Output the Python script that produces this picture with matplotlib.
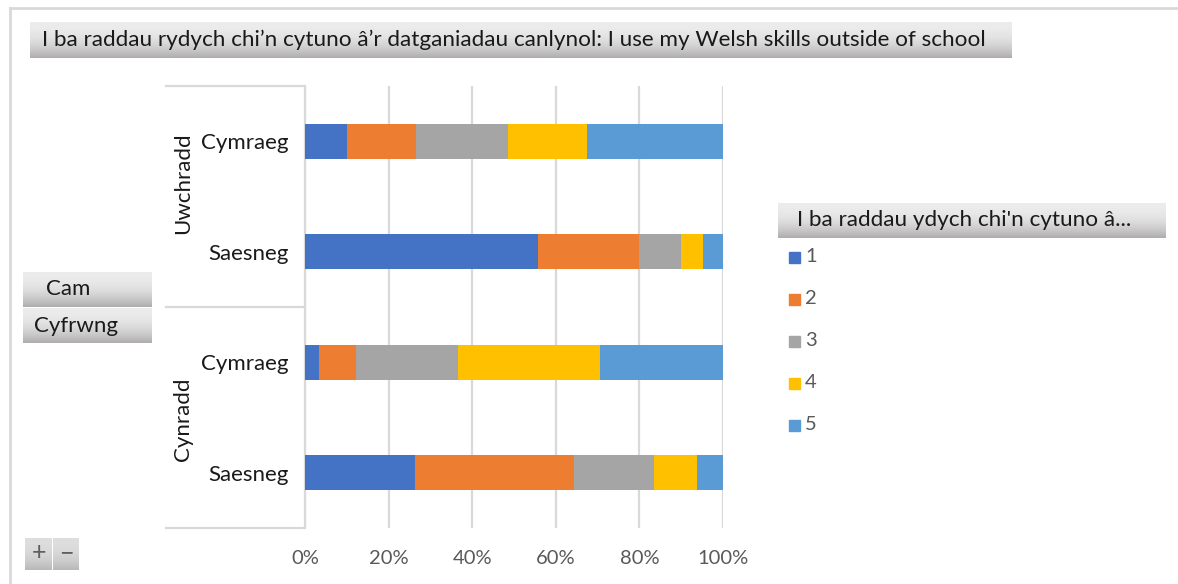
import numpy as np
import matplotlib.pyplot as plt
from matplotlib.patches import Rectangle
from matplotlib.lines import Line2D

# data (percent of respondents per rating)
groups = ['Uwchradd', 'Cynradd']
mediums = ['Cymraeg', 'Saesneg']
series_labels = ['1', '2', '3', '4', '5']
uwchradd_cymraeg = [10.0, 16.6, 21.9, 18.9, 32.6]
uwchradd_saesneg = [55.8, 24.2, 10.0, 5.1, 4.9]
cynradd_cymraeg = [3.4, 8.9, 24.3, 34.0, 29.4]
cynradd_saesneg = [26.3, 38.0, 19.2, 10.3, 6.2]
x_ticks = [0, 20, 40, 60, 80, 100]

title = 'I ba raddau rydych chi\u2019n cytuno \u00e2\u2019r datganiadau canlynol: I use my Welsh skills outside of school'
legend_title = "I ba raddau ydych chi'n cytuno \u00e2..."

colors = ['#4472c4', '#ed7d31', '#a5a5a5', '#ffc000', '#5b9bd5']

W, H = 1178, 584
FONT = ['Lato', 'DejaVu Sans']
plt.rcParams['font.family'] = FONT

fig = plt.figure(figsize=(W / 100, H / 100), dpi=100)


def fx(x):
    return x / W


def fy(y):
    return 1 - y / H


def button(x0, y0, x1, y1, top='#ececec', bottom='#aeacac'):
    # grey gradient box like the pivot chart field buttons
    bax = fig.add_axes([fx(x0), fy(y1), (x1 - x0) / W, (y1 - y0) / H])
    grad = np.linspace(0, 1, 64).reshape(-1, 1)
    c0 = np.array(plt.matplotlib.colors.to_rgb(top))
    c1 = np.array(plt.matplotlib.colors.to_rgb(bottom))
    shade = grad ** 2.2
    img = c0 + (c1 - c0) * shade[..., None]
    bax.imshow(img, aspect='auto', extent=[0, 1, 0, 1], origin='upper')
    bax.set_axis_off()
    return bax


# outer frame
fig.add_artist(Line2D([fx(10), fx(W)], [fy(8), fy(8)], color='#d9d9d9', lw=2))
fig.add_artist(Line2D([fx(10), fx(10)], [fy(8), fy(H)], color='#d9d9d9', lw=2))

# title button
button(30, 22, 1012, 58)
fig.text(fx(42), fy(40), title, fontsize=16.2, color='#1a1a1a', va='center', ha='left')

# main bar axes
ax = fig.add_axes([fx(305), fy(528), (723 - 305) / W, (528 - 86) / H])
rows = [uwchradd_cymraeg, uwchradd_saesneg, cynradd_cymraeg, cynradd_saesneg]
data = np.array(rows)
ypos = np.arange(len(rows))
left = np.zeros(len(rows))
for i, lab in enumerate(series_labels):
    ax.barh(ypos, data[:, i], left=left, height=0.315, color=colors[i], label=lab, zorder=3)
    left += data[:, i]

ax.set_xlim(0, 100)
ax.set_ylim(len(rows) - 0.5, -0.5)
ax.set_xticks(x_ticks)
ax.set_xticklabels([f'{t}%' for t in x_ticks], fontsize=14.5, color='#595959')
ax.tick_params(axis='x', length=0, pad=16)
ax.grid(axis='x', color='#d9d9d9', lw=1.6, zorder=0)
ax.set_yticks(ypos)
ax.set_yticklabels(mediums * len(groups), fontsize=16, color='#1a1a1a')
ax.tick_params(axis='y', length=0, pad=12)
for s in ['top', 'right', 'bottom']:
    ax.spines[s].set_visible(False)
ax.spines['left'].set_color('#d9d9d9')
ax.spines['left'].set_linewidth(1.6)

# group separators and labels
for yy in [86, 307, 528]:
    fig.add_artist(Line2D([fx(166), fx(303)], [fy(yy), fy(yy)], color='#d9d9d9', lw=1.6))
for g, yc in zip(groups, [183, 419]):
    fig.text(fx(183), fy(yc), g, rotation=90, fontsize=16, color='#1a1a1a', va='center', ha='center')

# field buttons at left
button(23, 272, 152, 307)
fig.text(fx(46), fy(289), 'Cam', fontsize=16, color='#1a1a1a', va='center', ha='left')
button(23, 308, 152, 343)
fig.text(fx(34), fy(326), 'Cyfrwng', fontsize=16, color='#1a1a1a', va='center', ha='left')

# legend
button(778, 203, 1166, 238)
fig.text(fx(797), fy(220), legend_title, fontsize=16.2, color='#1a1a1a', va='center', ha='left')
for i, lab in enumerate(series_labels):
    yc = 257 + 42 * i
    fig.add_artist(Rectangle((fx(789), fy(yc + 6)), 11 / W, 11 / H, color=colors[i]))
    fig.text(fx(805), fy(yc), lab, fontsize=14.5, color='#595959', va='center', ha='left')

# zoom buttons
button(25, 538, 52, 570, top='#dedede', bottom='#b8b8b8')
button(53, 538, 79, 570, top='#dedede', bottom='#b8b8b8')
fig.text(fx(38.5), fy(553), '+', fontsize=18, color='#5f5f5f', va='center', ha='center')
fig.text(fx(66), fy(553), '\u2212', fontsize=18, color='#5f5f5f', va='center', ha='center')

fig.savefig('out.png', dpi=100)
